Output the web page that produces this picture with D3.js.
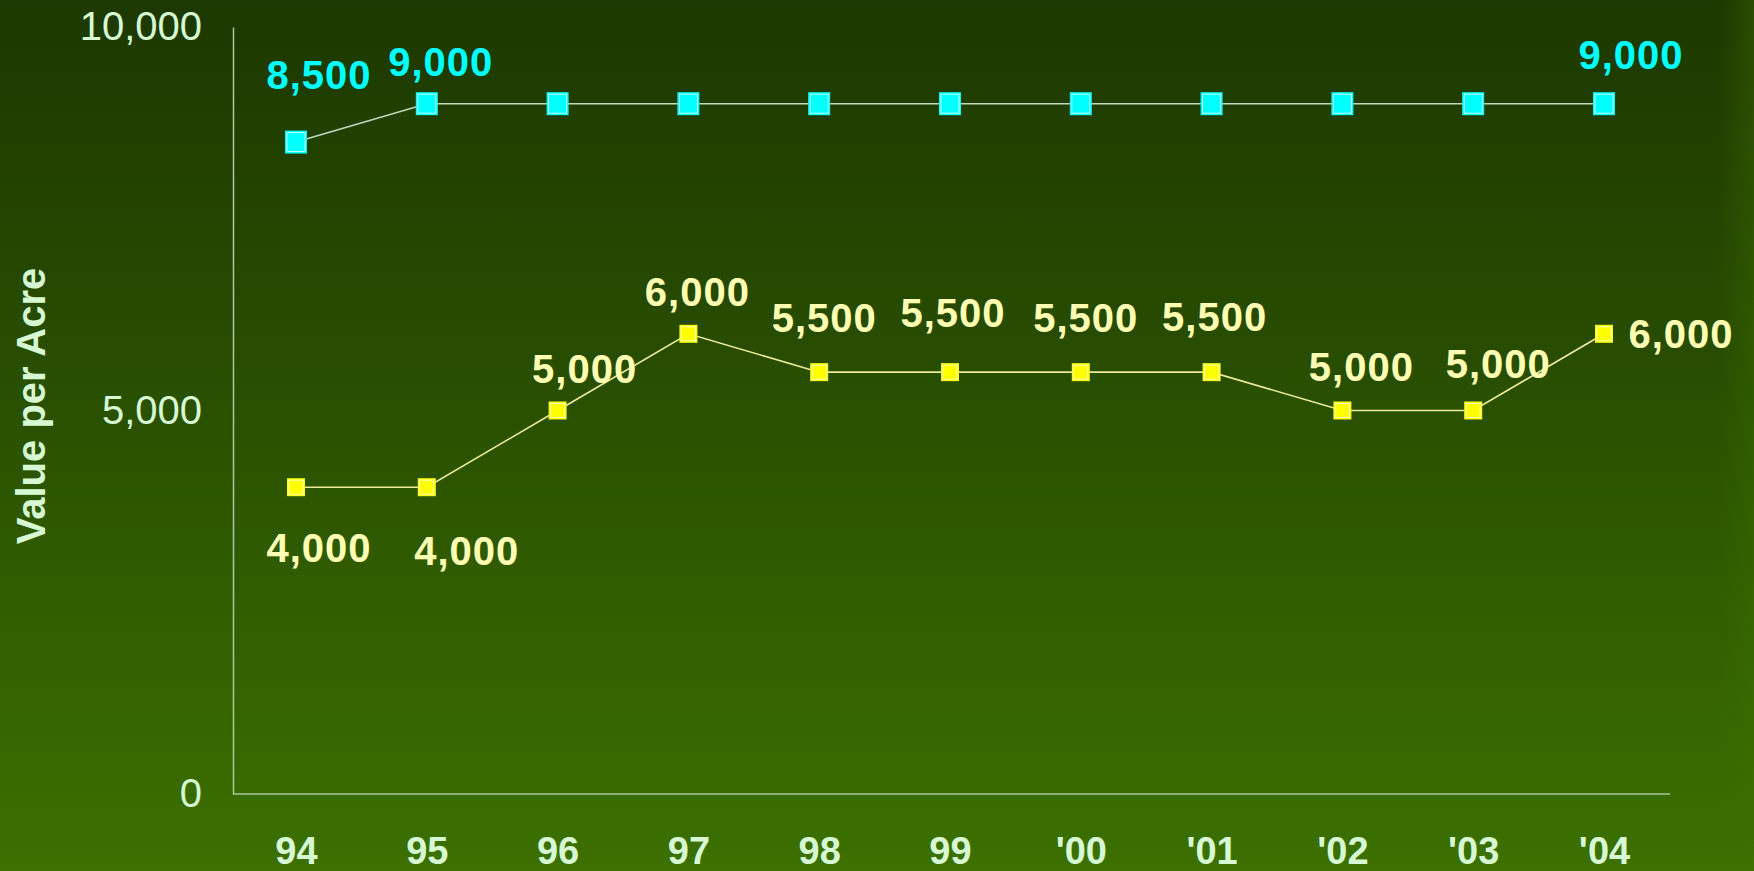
<!DOCTYPE html>
<html>
<head>
<meta charset="utf-8">
<script src="https://cdn.jsdelivr.net/npm/d3@7"></script>
<style>
  html, body { margin: 0; padding: 0; background: #1e3a00; }
  svg { display: block; }
  text { font-family: "Liberation Sans", Arial, sans-serif; }
</style>
</head>
<body>
<svg id="chart" width="1754" height="871"></svg>
<script>
// Land value per acre, 1994–2004
const years = ["94", "95", "96", "97", "98", "99", "'00", "'01", "'02", "'03", "'04"];
const upperValues = [8500, 9000, 9000, 9000, 9000, 9000, 9000, 9000, 9000, 9000, 9000];
const lowerValues = [4000, 4000, 5000, 6000, 5500, 5500, 5500, 5500, 5000, 5000, 6000];
const yTicks = [0, 5000, 10000];

// Which points carry a value label, and how far each label sits from its point
const upperLabelled = [0, 1, 10];
const upperNudge = [[23, -67], [14, -42], [27, -49]];
const lowerNudge = [[23, 60], [40, 63], [27, -42], [9, -42], [5, -55], [3, -60],
                    [5, -55], [3, -56], [19, -44], [25, -47], [77, 0]];

const W = 1754, H = 871;
const svg = d3.select("#chart");

// Background: dark green at the top fading to a brighter green at the bottom
const defs = svg.append("defs");
const bg = defs.append("linearGradient").attr("id", "bg")
  .attr("x1", 0).attr("y1", 0).attr("x2", 0).attr("y2", 1);
bg.append("stop").attr("offset", "0%").attr("stop-color", "#1d3800");
bg.append("stop").attr("offset", "45%").attr("stop-color", "#294f00");
bg.append("stop").attr("offset", "100%").attr("stop-color", "#3c7000");
const edge = defs.append("linearGradient").attr("id", "edge")
  .attr("x1", 0).attr("y1", 0).attr("x2", 1).attr("y2", 0);
edge.append("stop").attr("offset", "0%").attr("stop-color", "#3c7000").attr("stop-opacity", 0);
edge.append("stop").attr("offset", "100%").attr("stop-color", "#3c7000").attr("stop-opacity", 0.35);
svg.append("rect").attr("width", W).attr("height", H).attr("fill", "url(#bg)");
svg.append("rect").attr("x", 1718).attr("width", W - 1718).attr("height", H).attr("fill", "url(#edge)");

const axisX = 233, axisRight = 1670;
const x = d3.scalePoint().domain(years).range([296, 1604]);
const y = d3.scaleLinear().domain([0, 10000]).range([794, 27]);

const axisColor = "#a9c99f";
const tickText = "#d6f8d2";

// Y axis with its vertical line
const yAxis = svg.append("g")
  .attr("transform", `translate(${axisX},0)`)
  .call(d3.axisLeft(y).tickValues(yTicks).tickFormat(d3.format(",")).tickSize(0).tickSizeOuter(0).tickPadding(31));
yAxis.select(".domain").attr("stroke", axisColor).attr("stroke-width", 1.5);
yAxis.selectAll("text").attr("fill", tickText).attr("font-size", 40).attr("font-weight", "normal");

// X axis line along zero and category labels
svg.append("line")
  .attr("x1", axisX).attr("x2", axisRight)
  .attr("y1", y(0)).attr("y2", y(0))
  .attr("stroke", axisColor).attr("stroke-width", 1.5);
const xAxis = svg.append("g")
  .attr("transform", `translate(0,${y(0)})`)
  .call(d3.axisBottom(x).tickSize(0).tickPadding(43));
xAxis.select(".domain").remove();
xAxis.selectAll("text").attr("fill", tickText).attr("font-size", 38).attr("font-weight", "bold");

// Axis title
svg.append("text")
  .attr("transform", "translate(45,406) rotate(-90)")
  .attr("text-anchor", "middle")
  .attr("fill", tickText)
  .attr("font-size", 40)
  .attr("font-weight", "bold")
  .text("Value per Acre");

function drawSeries(values, lineColor, fill, inner, w, h) {
  const line = d3.line().x((d, i) => x(years[i])).y(d => y(d));
  svg.append("path")
    .datum(values)
    .attr("d", line)
    .attr("fill", "none")
    .attr("stroke", lineColor)
    .attr("stroke-width", 1.6);
  const g = svg.append("g");
  values.forEach((v, i) => {
    const cx = x(years[i]), cy = y(v);
    g.append("rect")
      .attr("x", cx - w / 2).attr("y", cy - h / 2)
      .attr("width", w).attr("height", h)
      .attr("fill", fill);
    g.append("rect")
      .attr("x", cx - w / 2 + 2).attr("y", cy - h / 2 + 2)
      .attr("width", w - 4).attr("height", h - 4)
      .attr("fill", fill)
      .attr("stroke", inner).attr("stroke-width", 1);
  });
}

drawSeries(upperValues, "#c4d6c0", "#00ffff", "#c8ffff", 22, 23);
drawSeries(lowerValues, "#ecec9c", "#ffff00", "#ffffc0", 18, 18);

const fmt = d3.format(",");

// Value labels
upperLabelled.forEach((i, k) => {
  svg.append("text")
    .attr("x", x(years[i]) + upperNudge[k][0])
    .attr("y", y(upperValues[i]) + upperNudge[k][1])
    .attr("dy", "0.36em")
    .attr("text-anchor", "middle")
    .attr("fill", "#00ffff")
    .attr("font-size", 40)
    .attr("font-weight", "bold")
    .attr("letter-spacing", 1)
    .text(fmt(upperValues[i]));
});
lowerValues.forEach((v, i) => {
  svg.append("text")
    .attr("x", x(years[i]) + lowerNudge[i][0])
    .attr("y", y(v) + lowerNudge[i][1])
    .attr("dy", "0.36em")
    .attr("text-anchor", "middle")
    .attr("fill", "#ffffb4")
    .attr("font-size", 40)
    .attr("font-weight", "bold")
    .attr("letter-spacing", 1)
    .text(fmt(v));
});
</script>
</body>
</html>
